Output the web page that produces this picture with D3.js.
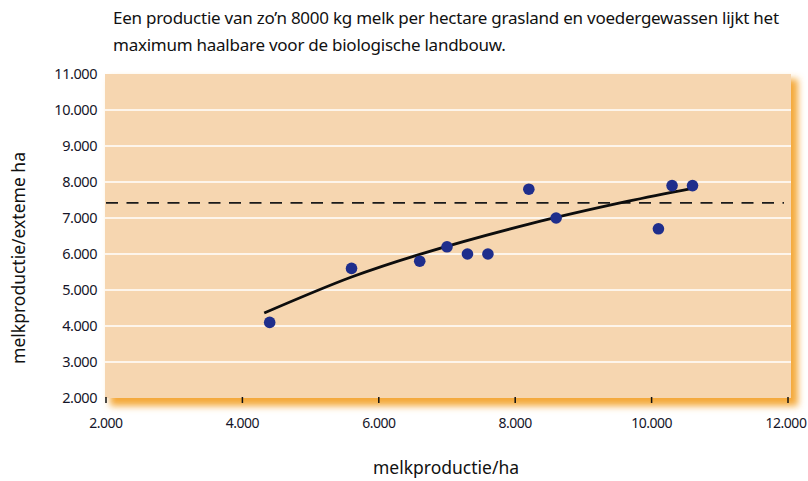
<!DOCTYPE html>
<html><head><meta charset="utf-8">
<script src="https://cdn.jsdelivr.net/npm/d3@7"></script>
<style>body{margin:0;background:#fff}</style>
</head><body><svg id="c" width="808" height="481"></svg>
<script>
const titleLines = ["Een productie van zo’n 8000 kg melk per hectare grasland en voedergewassen lijkt het",
                    "maximum haalbare voor de biologische landbouw."];
const xTicks = [2000, 4000, 6000, 8000, 10000, 12000];
const yTicks = [2000, 3000, 4000, 5000, 6000, 7000, 8000, 9000, 10000, 11000];
const pointX = [4400, 5600, 6600, 7000, 7300, 7600, 8200, 8600, 10100, 10300, 10600];
const pointY = [4100, 5600, 5800, 6200, 6000, 6000, 7800, 7000, 6700, 7900, 7900];
const trendX = [4320, 5600, 6600, 8200, 9640, 10600];
const trendY = [4360, 5360, 5990, 6830, 7460, 7825];
const targetLevel = 7420;
const xLabel = "melkproductie/ha";
const yLabel = "melkproductie/exteme ha";

const svg = d3.select("#c");
const font = "'Noto Sans', 'Open Sans', sans-serif";
const nl = d3.formatLocale({decimal: ",", thousands: ".", grouping: [3], currency: ["€", ""]});
const fmt = nl.format(",d");

const x = d3.scaleLinear().domain([2000, 12000]).range([106, 788]);
const y = d3.scaleLinear().domain([2000, 11000]).range([398, 74]);
const plot = {x0: 105, x1: 791, y0: 74, y1: 398};

const defs = svg.append("defs");
const f = defs.append("filter").attr("id", "blur").attr("x", "-10%").attr("y", "-10%").attr("width", "120%").attr("height", "130%");
f.append("feGaussianBlur").attr("stdDeviation", 3.5);

// shadow
svg.append("rect").attr("x", plot.x0 + 5).attr("y", plot.y0 + 5)
  .attr("width", plot.x1 - plot.x0 + 2).attr("height", plot.y1 - plot.y0 + 3)
  .attr("fill", "#f4a93a").attr("filter", "url(#blur)");
// plot background
svg.append("rect").attr("x", plot.x0).attr("y", plot.y0)
  .attr("width", plot.x1 - plot.x0).attr("height", plot.y1 - plot.y0)
  .attr("fill", "#f6d6b0");

// gridlines
svg.append("g").selectAll("line").data(yTicks.filter(d => d > 2000 && d < 11000)).join("line")
  .attr("x1", plot.x0).attr("x2", plot.x1)
  .attr("y1", d => y(d)).attr("y2", d => y(d))
  .attr("stroke", "#ffffff").attr("stroke-width", 1.6);

// y labels
svg.append("g").selectAll("text").data(yTicks).join("text")
  .attr("x", 97).attr("y", d => y(d) + 5)
  .attr("text-anchor", "end")
  .attr("font-family", font).attr("font-size", 14.5).attr("letter-spacing", "-0.45")
  .attr("fill", "#151528").text(d => fmt(d));

// x ticks
svg.append("g").selectAll("line").data(xTicks).join("line")
  .attr("x1", d => x(d)).attr("x2", d => x(d))
  .attr("y1", 397).attr("y2", 403)
  .attr("stroke", "#111").attr("stroke-width", 1.5);
svg.append("g").selectAll("text").data(xTicks).join("text")
  .attr("x", d => x(d) - (d === 12000 ? 2 : 0)).attr("y", 428)
  .attr("text-anchor", "middle")
  .attr("font-family", font).attr("font-size", 14).attr("letter-spacing", "-0.5")
  .attr("fill", "#151528").text(d => fmt(d));

// dashed target line
svg.append("line")
  .attr("x1", x(2000)).attr("x2", 784)
  .attr("y1", y(targetLevel)).attr("y2", y(targetLevel))
  .attr("stroke", "#1a1a1a").attr("stroke-width", 1.6)
  .attr("stroke-dasharray", "12,8.5");

// trend line
const trend = trendX.map((d, i) => [d, trendY[i]]);
svg.append("path").datum(trend)
  .attr("d", d3.line().x(d => x(d[0])).y(d => y(d[1])).curve(d3.curveCatmullRom))
  .attr("fill", "none").attr("stroke", "#0d0d0d").attr("stroke-width", 2.8);

// points
svg.append("g").selectAll("circle").data(pointX.map((d, i) => [d, pointY[i]])).join("circle")
  .attr("cx", d => x(d[0])).attr("cy", d => y(d[1])).attr("r", 5.8)
  .attr("fill", "#1f2e8c");

// title
svg.append("g").selectAll("text").data(titleLines).join("text")
  .attr("x", 113).attr("y", (d, i) => 24 + i * 27)
  .attr("font-family", font).attr("font-size", 17).attr("letter-spacing", "-0.25")
  .attr("fill", "#111").text(d => d);

// axis titles
svg.append("text").attr("x", 446).attr("y", 474).attr("text-anchor", "middle")
  .attr("font-family", font).attr("font-size", 17.5).attr("fill", "#111").text(xLabel);
svg.append("text").attr("transform", "translate(25,258) rotate(-90)").attr("text-anchor", "middle")
  .attr("font-family", font).attr("font-size", 17.5).attr("fill", "#111").text(yLabel);
</script></body></html>
